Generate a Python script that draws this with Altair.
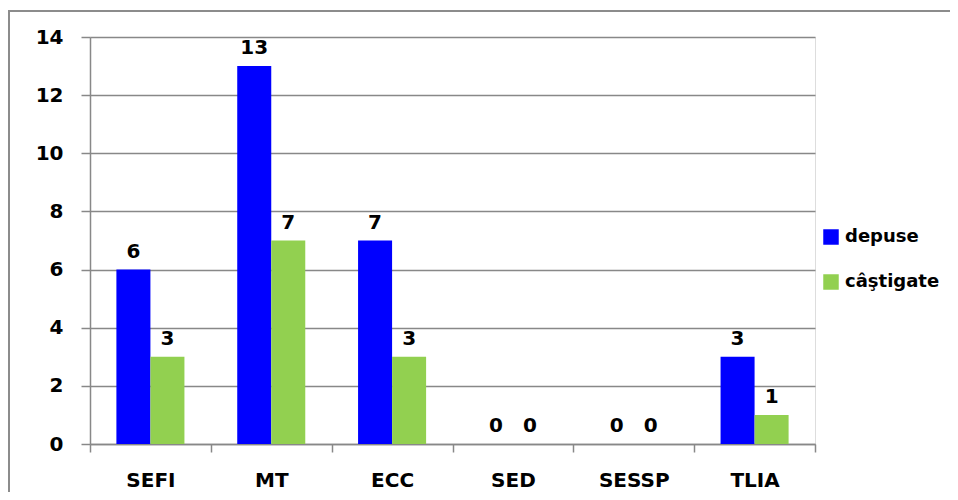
import altair as alt
import pandas as pd

categories = ["SEFI", "MT", "ECC", "SED", "SESSP", "TLIA"]
depuse = [6, 13, 7, 0, 0, 3]
castigate = [3, 7, 3, 0, 0, 1]
series_names = ["depuse", "câştigate"]
colors = ["#0000FF", "#92D050"]
y_ticks = [0, 2, 4, 6, 8, 10, 12, 14]

rows = []
for c, d, g in zip(categories, depuse, castigate):
    rows.append({"cat": c, "serie": series_names[0], "val": d})
    rows.append({"cat": c, "serie": series_names[1], "val": g})
df = pd.DataFrame(rows)

FONT = "DejaVu Sans"
GRAY = "#888888"
FS = 20

x_enc = alt.X("cat:N", sort=categories, title=None,
              scale=alt.Scale(paddingInner=0, paddingOuter=0),
              axis=alt.Axis(labelAngle=0, tickBand="extent", labelFont=FONT,
                            labelFontWeight="bold", labelFontSize=FS, labelColor="black",
                            labelPadding=18, tickSize=8, tickColor=GRAY,
                            domainColor=GRAY, domainWidth=1.5, tickWidth=1.5, grid=False))
xo_enc = alt.XOffset("serie:N", sort=series_names,
                     scale=alt.Scale(paddingInner=0, paddingOuter=0.776))
y_enc = alt.Y("val:Q", title=None,
              scale=alt.Scale(domain=[0, 14], nice=False),
              axis=alt.Axis(values=y_ticks, labelFont=FONT, labelFontWeight="bold",
                            labelFontSize=FS, labelColor="black", labelPadding=18,
                            tickSize=9, tickColor=GRAY, tickWidth=1.5,
                            domainColor=GRAY, domainWidth=1.5,
                            gridColor=GRAY, gridWidth=1.5))

bars = alt.Chart(df).mark_bar().encode(
    x=x_enc, xOffset=xo_enc, y=y_enc,
    color=alt.Color("serie:N", sort=series_names,
                    scale=alt.Scale(domain=series_names, range=colors),
                    legend=alt.Legend(title=None, orient="none", legendX=732, legendY=191,
                                      symbolType="square", symbolSize=240,
                                      symbolStrokeWidth=0, labelFont=FONT,
                                      labelFontWeight="bold", labelFontSize=18,
                                      labelColor="black", rowPadding=27, padding=0,
                                      labelOffset=5)),
)

labels = alt.Chart(df).mark_text(font=FONT, fontWeight="bold", fontSize=FS,
                                 baseline="bottom", dy=-8, color="black").encode(
    x=alt.X("cat:N", sort=categories), xOffset=alt.XOffset("serie:N", sort=series_names),
    y="val:Q", text="val:Q",
)

frame = alt.Chart(df).mark_rect(fill=None, stroke="#8c8c8c", strokeWidth=1.5).encode(
    x=alt.value(-81), x2=alt.value(1000), y=alt.value(-26), y2=alt.value(700),
)

chart = alt.layer(bars, labels, frame).properties(
    width=725, height=407,
    autosize=alt.AutoSizeParams(type="none"),
    padding={"left": 82, "top": 29, "right": 135, "bottom": 48},
).configure_view(stroke=GRAY, strokeWidth=1.5).configure(background="white")

chart.save("out.html", embed_options={"renderer": "svg", "actions": False})
